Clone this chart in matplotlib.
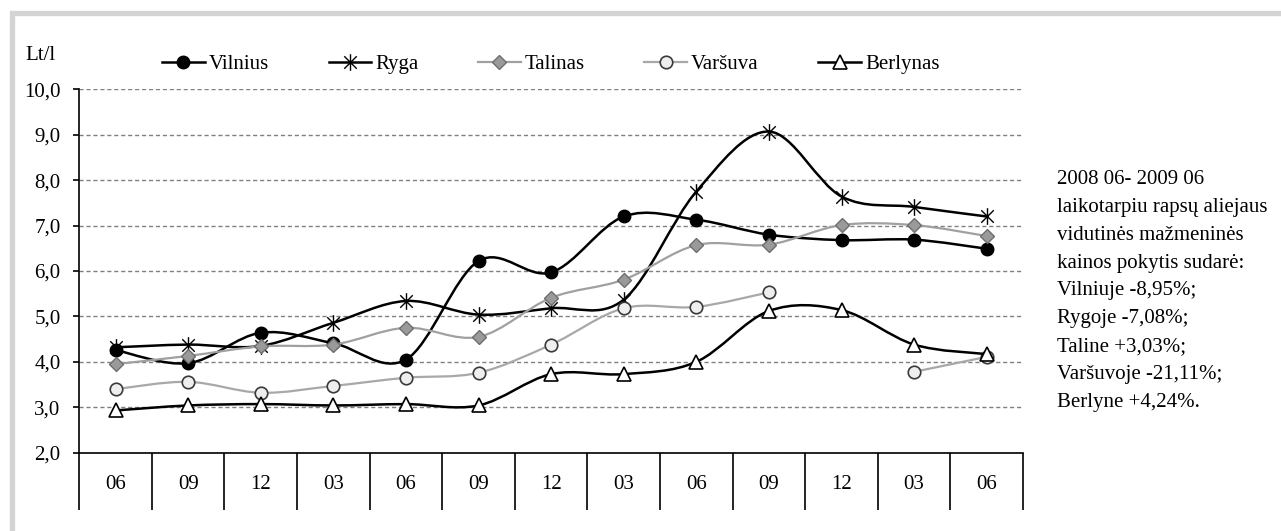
import numpy as np
import matplotlib
matplotlib.use('Agg')
import matplotlib.pyplot as plt
from matplotlib.path import Path
from matplotlib.patches import PathPatch, Rectangle
from matplotlib.lines import Line2D
from matplotlib.ticker import FixedLocator, FuncFormatter


months = ['06', '09', '12', '03', '06', '09', '12', '03', '06', '09', '12', '03', '06']
vilnius = [4.26, 3.97, 4.64, 4.41, 4.05, 6.22, 5.97, 7.20, 7.13, 6.80, 6.68, 6.69, 6.49]
ryga = [4.32, 4.38, 4.35, 4.86, 5.34, 5.04, 5.18, 5.37, 7.75, 9.07, 7.64, 7.41, 7.20]
talinas = [3.95, 4.13, 4.34, 4.38, 4.75, 4.55, 5.41, 5.81, 6.57, 6.58, 7.01, 7.01, 6.77]
varsuva = [3.40, 3.56, 3.32, 3.47, 3.65, 3.76, 4.38, 5.18, 5.21, 5.53, np.nan, 3.78, 4.11]
berlynas = [2.93, 3.04, 3.07, 3.04, 3.07, 3.04, 3.73, 3.73, 4.00, 5.12, 5.14, 4.38, 4.17]
names = ['Vilnius', 'Ryga', 'Talinas', 'Varšuva', 'Berlynas']
note = ['2008 06- 2009 06', 'laikotarpiu rapsų aliejaus', 'vidutinės mažmeninės',
        'kainos pokytis sudarė:', 'Vilniuje -8,95%;', 'Rygoje -7,08%;',
        'Taline +3,03%;', 'Varšuvoje -21,11%;', 'Berlyne +4,24%.']

plt.rcParams['font.family'] = ['Liberation Serif', 'DejaVu Serif']
FS = 15

# star marker like the spreadsheet one
star = Path([(0, -1), (0, 1), (-0.75, -0.75), (0.75, 0.75), (-0.75, 0.75), (0.75, -0.75)],
            [Path.MOVETO, Path.LINETO, Path.MOVETO, Path.LINETO, Path.MOVETO, Path.LINETO])

styles = [
    dict(color='black', lw=1.8, marker='o', ms=9, mfc='black', mec='black', mew=1),
    dict(color='black', lw=1.8, marker=star, ms=12, mfc='none', mec='black', mew=1),
    dict(color='#a0a0a0', lw=1.6, marker='D', ms=6.8, mfc='#9a9a9a', mec='#6e6e6e', mew=1),
    dict(color='#a8a8a8', lw=1.6, marker='o', ms=9, mfc='#eeeeee', mec='#3a3a3a', mew=1.2),
    dict(color='black', lw=1.8, marker='^', ms=10.5, mfc='white', mec='black', mew=1.2),
]


def smooth_path(xs, ys):
    # catmull-rom style bezier through the points (like smoothed lines)
    pts = np.column_stack([xs, ys])
    verts = [pts[0]]
    codes = [Path.MOVETO]
    n = len(pts)
    for i in range(n - 1):
        p0 = pts[max(i - 1, 0)]
        p1 = pts[i]
        p2 = pts[i + 1]
        p3 = pts[min(i + 2, n - 1)]
        verts += [p1 + (p2 - p0) / 6, p2 - (p3 - p1) / 6, p2]
        codes += [Path.CURVE4] * 3
    return Path(verts, codes)


fig = plt.figure(figsize=(12.81, 5.31), dpi=100)
fig.patches.append(Rectangle((11.5 / 1281, -0.2), 1.3, 1.2 - 12.5 / 531, transform=fig.transFigure,
                             fill=False, ec='#d4d4d4', lw=3.8, zorder=0))
ax = fig.add_axes([0.0619, 0.14746, 0.73669, 0.68437])

x = np.arange(len(months))
handles = []
for k, (name, vals, st) in enumerate(zip(names, [vilnius, ryga, talinas, varsuva, berlynas], styles)):
    v = np.array(vals, dtype=float)
    ok = ~np.isnan(v)
    # split into continuous runs
    runs = []
    cur = []
    for i in range(len(v)):
        if ok[i]:
            cur.append(i)
        elif cur:
            runs.append(cur)
            cur = []
    if cur:
        runs.append(cur)
    for r in runs:
        if len(r) > 1:
            ax.add_patch(PathPatch(smooth_path(x[r], v[r]), fill=False, ec=st['color'],
                                   lw=st['lw'], zorder=3 + k, capstyle='round', joinstyle='round'))
    ax.plot(x[ok], v[ok], ls='none', marker=st['marker'], ms=st['ms'], mfc=st['mfc'],
            mec=st['mec'], mew=st['mew'], zorder=3.5 + k)
    handles.append(Line2D([], [], color=st['color'], lw=st['lw'], marker=st['marker'], ms=st['ms'],
                          mfc=st['mfc'], mec=st['mec'], mew=st['mew'], label=name))

ax.set_xlim(-0.5, len(months) - 0.5)
ax.set_ylim(2, 10)
ax.set_yticks(np.arange(2, 11, 1))
ax.yaxis.set_major_formatter(FuncFormatter(lambda v, p: ('%.1f' % v).replace('.', ',')))
ax.grid(axis='y', color='#808080', lw=1, ls=(0, (3, 2)))
ax.set_axisbelow(True)

ax.set_xticks(x)
ax.set_xticklabels(months)
ax.xaxis.set_minor_locator(FixedLocator(np.arange(-0.5, len(months), 1)))
ax.tick_params(axis='x', which='major', length=0, pad=16, labelsize=FS)
ax.tick_params(axis='x', which='minor', length=41, width=1.2, direction='out', color='black')
ax.tick_params(axis='y', length=4.5, width=1.2, pad=9, labelsize=FS)

for s in ['top', 'right']:
    ax.spines[s].set_visible(False)
for s in ['left', 'bottom']:
    ax.spines[s].set_linewidth(1.2)

fig.text(25 / 1281, 1 - 55 / 531, 'Lt/l', fontsize=FS, ha='left', va='center')

fig.legend(handles=handles, loc='center left', bbox_to_anchor=(162 / 1281, 1 - 64 / 531),
           ncol=5, frameon=False, fontsize=FS, handlelength=2.05, handletextpad=0.2,
           columnspacing=2.85, borderpad=0, borderaxespad=0)

for i, line in enumerate(note):
    fig.text(1057 / 1281, 1 - (179 + 28 * i) / 531, line, fontsize=FS, ha='left', va='center')

fig.savefig('out.png', dpi=100)
